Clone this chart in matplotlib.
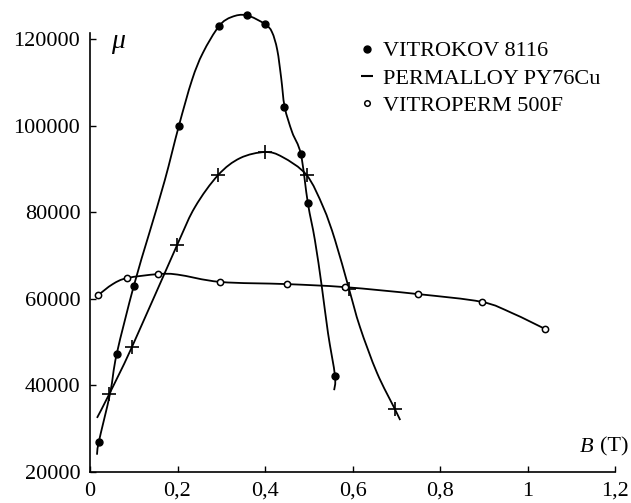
import matplotlib
matplotlib.use('Agg')
import matplotlib.pyplot as plt
from matplotlib.lines import Line2D
from matplotlib.path import Path
from matplotlib.patches import PathPatch

# точки с графика (B в Тл, mu)
vk_x = [0.02, 0.061, 0.10, 0.203, 0.295, 0.358, 0.40, 0.443, 0.483, 0.498, 0.56]
vk_y = [26900, 47250, 62950, 99900, 123000, 125500, 123450, 104300, 93400, 82100, 42200]
# линия, проведённая от руки через точки
vk_line_x = [0.016, 0.02, 0.046, 0.061, 0.10, 0.135, 0.171, 0.203, 0.233, 0.258, 0.295,
             0.324, 0.358, 0.40, 0.416, 0.428, 0.437, 0.445, 0.462, 0.482, 0.498, 0.514,
             0.530, 0.544, 0.56, 0.558]
vk_line_y = [24000, 26900, 38200, 47250, 62950, 75000, 87400, 99900, 110500, 116800, 123000,
             125100, 125500, 123450, 121600, 117500, 111000, 104300, 98500, 93400, 82100, 73600,
             62700, 52100, 42200, 38900]

pm_x = [0.044, 0.096, 0.199, 0.293, 0.40, 0.495, 0.592, 0.697]
pm_y = [38000, 48900, 72400, 88600, 93900, 88600, 62300, 34500]
pm_line_x = [0.016, 0.044, 0.096, 0.199, 0.24, 0.293, 0.343, 0.40, 0.44, 0.495, 0.533,
             0.56, 0.592, 0.617, 0.656, 0.697, 0.709]
pm_line_y = [32500, 38000, 48900, 72400, 81200, 88600, 92500, 93900, 92750, 88600, 81200,
             73600, 62300, 53500, 42900, 34500, 32000]

vp_x = [0.018, 0.085, 0.155, 0.298, 0.45, 0.583, 0.749, 0.895, 1.041]
vp_y = [60800, 64800, 65700, 63900, 63400, 62700, 61100, 59300, 53000]
vp_line_x = [0.018, 0.052, 0.085, 0.155, 0.2, 0.298, 0.45, 0.583, 0.749, 0.895, 0.965, 1.041]
vp_line_y = [60800, 63400, 64800, 65700, 65600, 63900, 63400, 62700, 61100, 59300, 56700, 53000]

labels = ['VITROKOV 8116', 'PERMALLOY PY76Cu', 'VITROPERM 500F']
x_ticks = [0, 0.2, 0.4, 0.6, 0.8, 1.0, 1.2]
x_tick_labels = ['0', '0,2', '0,4', '0,6', '0,8', '1', '1,2']
y_ticks = [20000, 40000, 60000, 80000, 100000, 120000]


def smooth_path(xs, ys):
    # кривая Безье через все точки (Catmull-Rom), как плавная линия на рисунке
    pts = list(zip(xs, ys))
    verts = [pts[0]]
    codes = [Path.MOVETO]
    for i in range(len(pts) - 1):
        p0 = pts[i - 1] if i > 0 else pts[i]
        p1 = pts[i]
        p2 = pts[i + 1]
        p3 = pts[i + 2] if i + 2 < len(pts) else pts[i + 1]
        c1 = (p1[0] + (p2[0] - p0[0]) / 6, p1[1] + (p2[1] - p0[1]) / 6)
        c2 = (p2[0] - (p3[0] - p1[0]) / 6, p2[1] - (p3[1] - p1[1]) / 6)
        verts += [c1, c2, p2]
        codes += [Path.CURVE4] * 3
    return Path(verts, codes)


plt.rcParams['font.family'] = ['Liberation Serif', 'DejaVu Serif']

fig = plt.figure(figsize=(6.31, 5.03), dpi=100)
ax = fig.add_axes([90 / 631, 31 / 503, 525 / 631, 439 / 503])

lw = 1.3
for lx, ly in [(vk_line_x, vk_line_y), (pm_line_x, pm_line_y), (vp_line_x, vp_line_y)]:
    ax.add_patch(PathPatch(smooth_path(lx, ly), fill=False, edgecolor='black', lw=lw,
                           clip_on=False))

ax.plot(vk_x, vk_y, 'o', color='black', ms=5, clip_on=False)
ax.plot(pm_x, pm_y, '+', color='black', ms=10, mew=1.2, clip_on=False)
ax.plot(vp_x, vp_y, 'o', mfc='white', mec='black', mew=1.1, ms=4.5, clip_on=False)

ax.set_xlim(0, 1.2)
ax.set_ylim(20000, 121400)
ax.set_xticks(x_ticks)
ax.set_xticklabels(x_tick_labels)
ax.set_yticks(y_ticks)
ax.tick_params(direction='in', length=4, width=1, labelsize=16, pad=7)

for s in ['top', 'right']:
    ax.spines[s].set_visible(False)
for s in ['left', 'bottom']:
    ax.spines[s].set_linewidth(1.2)

ax.text(0.04, 0.966, 'μ', transform=ax.transAxes, fontsize=20,
        ha='left', va='baseline', fontstyle='italic')
ax.text(1.025, 0.046, '(T)', transform=ax.transAxes, fontsize=16, ha='right', va='baseline')
ax.text(0.958, 0.046, 'B', transform=ax.transAxes, fontsize=16, ha='right', va='baseline',
        fontstyle='italic')

handles = [
    Line2D([], [], ls='none', marker='o', color='black', ms=5),
    Line2D([], [], ls='none', marker='_', color='black', ms=9, mew=1.5),
    Line2D([], [], ls='none', marker='o', mfc='white', mec='black', mew=1.1, ms=4),
]
ax.legend(handles, labels, loc='upper left', bbox_to_anchor=(0.51, 0.982),
          frameon=False, fontsize=16, handlelength=0.8, handletextpad=0.35,
          labelspacing=0.3, borderaxespad=0, borderpad=0)

fig.savefig('out.png', dpi=100)
